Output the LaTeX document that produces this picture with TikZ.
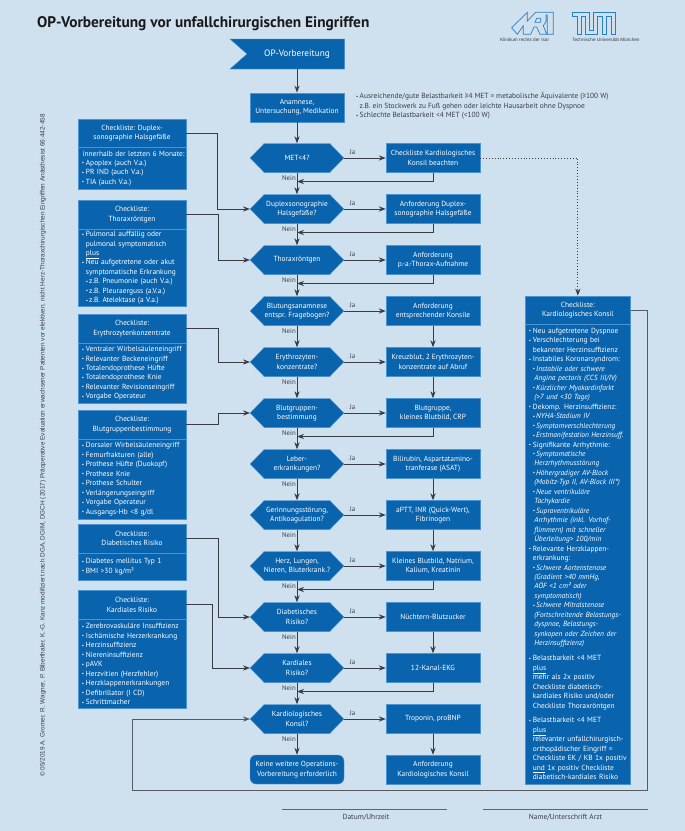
\documentclass[tikz,border=0pt]{standalone}
\usepackage{fontspec}
\setmainfont{PT Sans}
\newfontfamily\smallsans{Liberation Sans}
\usetikzlibrary{arrows.meta,calc}
\definecolor{bgc}{HTML}{CFE1EE}
\definecolor{boxc}{HTML}{0A64AD}
\definecolor{edgec}{HTML}{4A94D4}
\definecolor{linec}{HTML}{3C3C46}
\definecolor{logoc}{HTML}{2A7FC4}
\newcommand\bfs{\fontsize{7.45}{9.5}\selectfont}
\newcommand\blt{\raisebox{.5pt}{\fontsize{5}{5}\selectfont •}}
\newcommand\bl{\makebox[7.9bp][l]{\hspace*{3.9bp}\blt}}
\newcommand\nb{\hspace*{7.9bp}}
\newcommand\sbl{\makebox[11.2bp][l]{\hspace*{7.9bp}\blt}}
\newcommand\scn{\hspace*{9.4bp}}
\newcommand\hexn[3]{%
  \path[fill=boxc,draw=edgec,line width=.4bp] ($(#2)+(-46.8,0)$)--++(14,-14.5)--++(65.6,0)--++(14,14.5)--++(-14,14.5)--++(-65.6,0)--cycle;
  \node[hextext] (#1) at (#2) {#3};}
\tikzset{
  conn/.style={draw=linec,line width=.9bp,-{Stealth[length=7bp,width=5.2bp]}},
  plain/.style={draw=linec,line width=.9bp},
  hextext/.style={minimum width=93.6bp,minimum height=29bp,inner sep=0pt,align=center,text=white,font=\bfs},
  rbox/.style={fill=boxc,draw=edgec,line width=.4bp,minimum width=94bp,minimum height=29bp,inner sep=0pt,align=center,text=white,font=\bfs},
  chead/.style={fill=boxc,draw=edgec,line width=.7bp,minimum width=108bp,inner sep=0pt,align=center,text=white,font=\bfs},
  cbody/.style={fill=boxc,draw=edgec,line width=.7bp,text width=108bp,inner sep=0pt,inner ysep=0pt,align=left,text=white,font=\bfs},
  lab/.style={inner sep=0pt,text=linec,font=\fontsize{6.9}{8}\selectfont},
}
\begin{document}
\begin{tikzpicture}[x=1bp,y=-1bp]
\useasboundingbox (0,0) rectangle (685,831);
\fill[bgc] (0,0) rectangle (685,831);
% title and side text
\node[anchor=west,inner sep=0pt,font=\fontsize{15.4}{18}\selectfont\bfseries,text=black!90] (title) at (37,24) {OP-Vorbereitung vor unfallchirurgischen Eingriffen};
\node[rotate=90,inner sep=0pt,text=linec,font=\smallsans\fontsize{6.45}{8}\selectfont] (side) at (43,445.5) {© 05/2019 A. Gromer, R. Wagner, P. Biberthaler, K.-G. Kanz modifiziert nach DGA, DGIM, DGCH (2017) Präoperative Evaluation erwachsener Patienten vor elektiven, nicht Herz-Thoraxchirurgischen Eingriffen Anästhesist 66:442-458};
% logos
\begin{scope}[draw=logoc,line width=.7bp,line join=miter]
\draw (511.7,27.7)--(527.3,12.3)--(527.3,21)--(535.7,12.3)--(553.3,12.3)--(553.3,34.3)--(547.3,34.3)--(547.3,15)--(546,15)--(546,21.7)--(543.3,25.7)--(546.7,34.3)--(540,34.3)--(536.7,27)--(534,27)--(530.7,34.3)--(523.3,34.3)--(523.3,25.7)--(517.3,34.3)--cycle;
\draw (536.7,18.3)--(540.7,18.3)--(540.7,22.3)--(535,22.3)--cycle;
\draw (572,12)--(589,12)--(589,30)--(593,30)--(593,12)--(615,12)--(615,34)--(611,34)--(611,16)--(606,16)--(606,34)--(602,34)--(602,16)--(597,16)--(597,34)--(585,34)--(585,16)--(581,16)--(581,34)--(577,34)--(577,16)--(572,16)--cycle;
\end{scope}
\node[anchor=west,inner sep=0pt,text=linec,font=\smallsans\fontsize{4.7}{6}\selectfont] (mri) at (500,40) {Klinikum rechts der Isar};
\node[anchor=west,inner sep=0pt,text=linec,font=\smallsans\fontsize{4.7}{6}\selectfont] (tum) at (572,40) {Technische Universität München};
% start
\path[fill=boxc,draw=edgec,line width=.4bp] (230,39)--(344.7,39)--(344.7,69)--(230,69)--(247,54)--cycle;
\node[minimum width=95bp,minimum height=30bp,inner sep=0pt,text=white,font=\fontsize{9.3}{11}\selectfont] (op) at (297,54) {OP-Vorbereitung};
\node[rbox] (an) at (297,107.3) {Anamnese,\\Untersuchung, Medikation};
\node[anchor=north west,inner sep=0pt,align=left,text=linec,font=\fontsize{7.45}{9.5}\selectfont] (note) at (356,92.5) {\makebox[3.5bp][l]{\blt}Ausreichende/gute Belastbarkeit ≥4 MET = metabolische Äquivalente (≥100 W)\\\hspace*{3.5bp}z.B. ein Stockwerk zu Fuß gehen oder leichte Hausarbeit ohne Dyspnoe\\\makebox[3.5bp][l]{\blt}Schlechte Belastbarkeit <4 MET (<100 W)};
% decision column
\hexn{h1}{297,158}{MET<4?}
\hexn{h2}{297,209}{Duplexsonographie\\Halsgefäße?}
\hexn{h3}{297,260}{Thoraxröntgen}
\hexn{h4}{297,311}{Blutungsanamnese\\entspr. Fragebogen?}
\hexn{h5}{297,362}{Erythrozyten-\\konzentrate?}
\hexn{h6}{297,413}{Blutgruppen-\\bestimmung}
\hexn{h7}{297,464}{Leber-\\erkrankungen?}
\hexn{h8}{297,515}{Gerinnungsstörung,\\Antikoagulation?}
\hexn{h9}{297,566}{Herz, Lungen,\\Nieren, Bluterkrank.?}
\hexn{h10}{297,617}{Diabetisches\\Risiko?}
\hexn{h11}{297,668}{Kardiales\\Risiko?}
\hexn{h12}{297,719}{Kardiologisches\\Konsil?}
\node[rbox,rounded corners=6bp] (kn) at (297,769.5) {Keine weitere Operations-\\Vorbereitung erforderlich};
% action column
\node[rbox] (r1) at (433,158) {Checkliste Kardiologisches\\Konsil beachten};
\node[rbox] (r2) at (433,209) {Anforderung Duplex-\\sonographie Halsgefäße};
\node[rbox] (r3) at (433,260) {Anforderung\\p.-a.-Thorax-Aufnahme};
\node[rbox] (r4) at (433,311) {Anforderung\\entsprechender Konsile};
\node[rbox] (r5) at (433,362) {Kreuzblut, 2 Erythrozyten-\\konzentrate auf Abruf};
\node[rbox] (r6) at (433,413) {Blutgruppe,\\kleines Blutbild, CRP};
\node[rbox] (r7) at (433,464) {Bilirubin, Aspartatamino-\\tranferase (ASAT)};
\node[rbox] (r8) at (433,515) {aPTT, INR (Quick-Wert),\\Fibrinogen};
\node[rbox] (r9) at (433,566) {Kleines Blutbild, Natrium,\\Kalium, Kreatinin};
\node[rbox] (r10) at (433,617) {Nüchtern-Blutzucker};
\node[rbox] (r11) at (433,668) {12-Kanal-EKG};
\node[rbox] (r12) at (433,719) {Troponin, proBNP};
\node[rbox] (r13) at (433,769.5) {Anforderung\\Kardiologisches Konsil};
% left checklists
\node[chead,minimum height=28.5bp] (c1) at (132,133.25) {Checkliste: Duplex-\\sonographie Halsgefäße};
\node[cbody,minimum height=41.8bp] (b1) at (132,168.4) {\hspace*{4.6bp}innerhalb der letzten 6 Monate:\\\bl Apoplex (auch V.a.)\\\bl PR IND (auch V.a.)\\\bl TIA (auch V.a.)};
\node[chead,minimum height=29bp] (c2) at (132,214.5) {Checkliste:\\Thoraxröntgen};
\node[cbody,minimum height=77.7bp] (b2) at (132,267.85) {\bl Pulmonal auffällig oder\\\nb pulmonal symptomatisch\\\nb\underline{plus}\\\bl Neu aufgetretene oder akut\\\nb symptomatische Erkrankung\\\sbl z.B. Pneumonie (auch V.a.)\\\sbl z.B. Pleuraerguss (a.V.a.)\\\sbl z.B. Atelektase (a V.a.)};
\node[chead,minimum height=29.5bp] (c3) at (132,328.75) {Checkliste:\\Erythrozytenkonzentrate};
\node[cbody,minimum height=59.8bp] (b3) at (132,373.4) {\bl Ventraler Wirbelsäuleneingriff\\\bl Relevanter Beckeneingriff\\\bl Totalendoprothese Hüfte\\\bl Totalendoprothese Knie\\\bl Relevanter Revisionseingriff\\\bl Vorgabe Operateur};
\node[chead,minimum height=29.5bp] (c4) at (132,424.75) {Checkliste:\\Blutgruppenbestimmung};
\node[cbody,minimum height=79.5bp] (b4) at (132,479.25) {\bl Dorsaler Wirbelsäuleneingriff\\\bl Femurfrakturen (alle)\\\bl Prothese Hüfte (Duokopf)\\\bl Prothese Knie\\\bl Prothese Schulter\\\bl Verlängerungseingriff\\\bl Vorgabe Operateur\\\bl Ausgangs-Hb <8 g/dl};
\node[chead,minimum height=29bp] (c5) at (132,538.5) {Checkliste:\\Diabetisches Risiko};
\node[cbody,minimum height=27bp] (b5) at (132,566.5) {\bl Diabetes mellitus Typ 1\\\bl BMI >30 kg/m²};
\node[chead,minimum height=29.5bp] (c6) at (132,604.75) {Checkliste:\\Kardiales Risiko};
\node[cbody,minimum height=89.2bp] (b6) at (132,664.1) {\bl Zerebrovaskuläre Insuffizienz\\\bl Ischämische Herzerkrankung\\\bl Herzinsuffizienz\\\bl Niereninsuffizienz\\\bl pAVK\\\bl Herzvitien (Herzfehler)\\\bl Herzklappenerkrankungen\\\bl Defibrillator (I CD)\\\bl Schrittmacher};
% cardiology checklist
\node[chead,minimum width=105.7bp,minimum height=28bp] (cc) at (577.85,310) {Checkliste:\\Kardiologisches Konsil};
\node[cbody,text width=105.7bp,minimum height=460bp] (bc) at (577.85,554) {\bl Neu aufgetretene Dyspnoe\\\bl Verschlechterung bei\\\nb bekannter Herzinsuffizienz\\\bl Instabiles Koronarsyndrom:\\\sbl\textit{Instabile oder schwere}\\\scn\textit{Angina pectoris (CCS III/IV)}\\\sbl\textit{Kürzlicher Myokardinfarkt}\\\scn\textit{(>7 und <30 Tage)}\\\bl Dekomp. Herzinsuffizienz:\\\sbl\textit{NYHA-Stadium IV}\\\sbl\textit{Symptomverschlechterung}\\\sbl\textit{Erstmanifestation Herzinsuff.}\\\bl Signifikante Arrhythmie:\\\sbl\textit{Symptomatische}\\\scn\textit{Herzrhythmusstörung}\\\sbl\textit{Höhergradiger AV-Block}\\\scn\textit{(Mobitz-Typ II, AV-Block III°)}\\\sbl\textit{Neue ventrikuläre}\\\scn\textit{Tachykardie}\\\sbl\textit{Supraventrikuläre}\\\scn\textit{Arrhythmie (inkl. Vorhof-}\\\scn\textit{flimmern) mit schneller}\\\scn\textit{Überleitung> 100/min}\\\bl Relevante Herzklappen-\\\nb erkrankung:\\\sbl\textit{Schwere Aortenstenose}\\\scn\textit{(Gradient >40 mmHg,}\\\scn\textit{AÖF <1 cm² oder}\\\scn\textit{symptomatisch)}\\\sbl\textit{Schwere Mitralstenose}\\\scn\textit{(Fortschreitende Belastungs-}\\\scn\textit{dyspnoe, Belastungs-}\\\scn\textit{synkopen oder Zeichen der}\\\scn\textit{Herzinsuffizienz)}\\[5.5pt]\bl Belastbarkeit <4 MET\\\nb\underline{plus}\\\nb mehr als 2x positiv\\\nb Checkliste diabetisch-\\\nb kardiales Risiko und/oder\\\nb Checkliste Thoraxröntgen\\[5.5pt]\bl Belastbarkeit <4 MET\\\nb\underline{plus}\\\nb relevanter unfallchirurgisch-\\\nb orthopädischer Eingriff =\\\nb Checkliste EK / KB 1x positiv\\\nb\underline{und} 1x positiv Checkliste\\\nb diabetisch-kardiales Risiko};
% connectors
\draw[conn] (op) -- (an);
\draw[conn] (an) -- (h1);
\foreach \i/\j in {1/h2,2/h3,3/h4,4/h5,5/h6,6/h7,7/h8,8/h9,9/h10,10/h11,11/h12,12/kn}{
  \draw[conn] (h\i.south) -- (\j.north);
  \draw[conn] (h\i.east) -- (r\i.west);
  \node[lab] (ja\i) at ($(h\i.east)+(8.7,-6)$) {Ja};
  \node[lab,anchor=east] (ne\i) at ($(h\i.south)+(-1,5.5)$) {Nein};
}
\foreach \i in {1,2,3,6,9,11}{
  \coordinate (f\i) at ($(h\i.south)+(0,8.8)$);
  \draw[conn] (r\i.south) |- (f\i);
}
\foreach \i/\j in {4/5,5/6,7/8,8/9,10/11,12/13}{
  \draw[conn] (r\i.south) -- (r\j.north);
}
\draw[conn] (c1.east) -- ++(31,0) |- (h2.west);
\draw[conn] (c2.east) -- ++(32,0) |- (h3.west);
\draw[conn] (c3.east) -- ++(32,0) |- (h5.west);
\draw[conn] (c4.east) -- ++(32,0) |- (h6.west);
\draw[conn] (c5.east) -- ++(32,0) |- (h10.west);
\draw[conn] (c6.east) -- ++(26,0) |- (h11.west);
\coordinate (lp1) at (647,790.8);
\coordinate (lp2) at (132,790.8);
\draw[conn,draw=linec!85] (cc.east) -| (lp1) -- (lp2) |- (h12.west);
\draw[conn,dotted] (r1.east) -| (cc.north);
% signature
\coordinate (s1a) at (281.7,809.7); \coordinate (s1b) at (446.7,809.7);
\coordinate (s2a) at (483,809.7); \coordinate (s2b) at (648,809.7);
\draw[plain,line width=.7bp,draw=linec!80] (s1a) -- (s1b);
\draw[plain,line width=.7bp,draw=linec!80] (s2a) -- (s2b);
\node[lab,font=\fontsize{7.45}{9}\selectfont] (d1) at (366,817) {Datum/Uhrzeit};
\node[lab,font=\fontsize{7.45}{9}\selectfont] (d2) at (565.5,817) {Name/Unterschrift Arzt};
\end{tikzpicture}
\end{document}
